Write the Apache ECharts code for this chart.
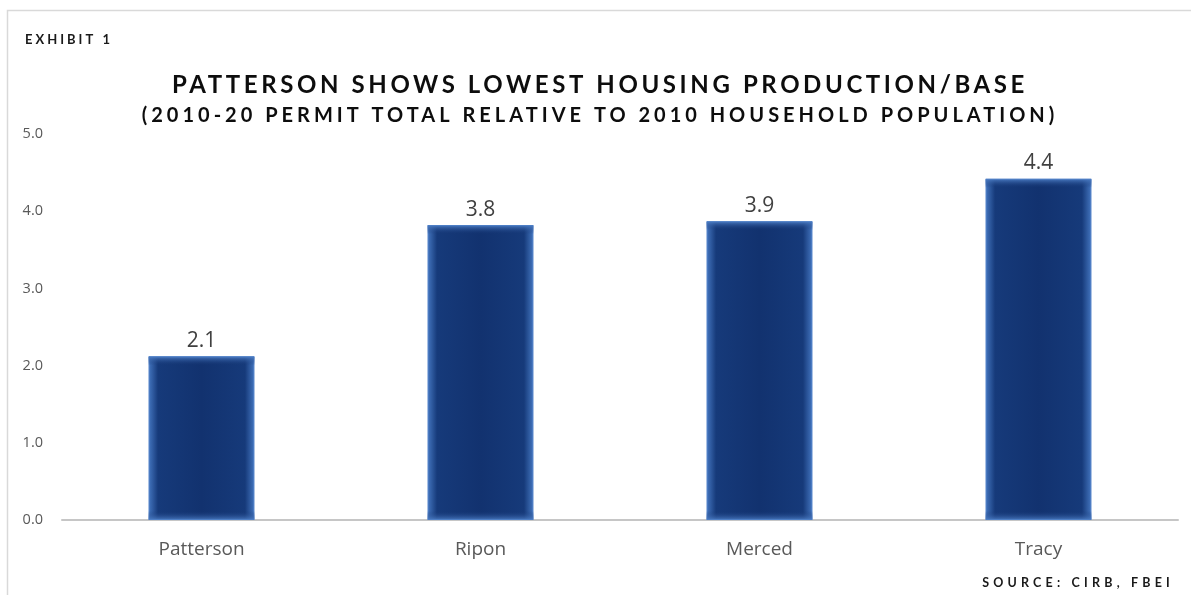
<!DOCTYPE html>
<html>
<head>
<meta charset="utf-8">
<title>Patterson Shows Lowest Housing Production/Base</title>
<script src="https://cdn.jsdelivr.net/npm/echarts@6/dist/echarts.min.js"></script>
<style>
  html, body { margin: 0; padding: 0; background: #ffffff; }
  #chart { width: 1191px; height: 595px; }
</style>
</head>
<body>
<div id="chart"></div>
<script>
// Data
const cities = ['Patterson', 'Ripon', 'Merced', 'Tracy'];
const permitRatio = [2.12, 3.82, 3.87, 4.42];
const yTicks = [0, 1, 2, 3, 4, 5];

const exhibitLabel = 'EXHIBIT 1';
const titleText = 'PATTERSON SHOWS LOWEST HOUSING PRODUCTION/BASE';
const subtitleText = '(2010-20 PERMIT TOTAL RELATIVE TO 2010 HOUSEHOLD POPULATION)';
const sourceText = 'SOURCE: CIRB, FBEI';

// Tracked (letter-spaced) headings: bold Lato text gets extra spacing by size.
const TRACKING = { '24': 3.6, '20': 4.0, '13': 3.0, '12.5': 4.2 };
function trackingFor(font) {
  if (!/Lato/.test(font) || !/bold|700/.test(font)) return 0;
  const m = font.match(/(\d+(?:\.\d+)?)px/);
  const size = m ? String(parseFloat(m[1])) : '12';
  return TRACKING[size] || 0;
}
const proto = CanvasRenderingContext2D.prototype;
const nativeFill = proto.fillText;
proto.fillText = function (t, x, y, w) {
  this.letterSpacing = trackingFor(this.font) + 'px';
  return w === undefined ? nativeFill.call(this, t, x, y) : nativeFill.call(this, t, x, y, w);
};
const measureCtx = document.createElement('canvas').getContext('2d');
echarts.setPlatformAPI({
  measureText(text, font) {
    measureCtx.font = font;
    measureCtx.letterSpacing = trackingFor(font) + 'px';
    return measureCtx.measureText(text);
  }
});

const chart = echarts.init(document.getElementById('chart'), null, { renderer: 'canvas' });

const GRID = { left: 62, right: 13, top: 134, bottom: 75 };
const plotH = 595 - GRID.top - GRID.bottom;
const yMax = yTicks[yTicks.length - 1];

// Soft glow along the top and bottom edges of each bar
const edgeGlow = permitRatio.map(v => {
  const h = v / yMax * plotH;
  const s = Math.min(0.3, 9 / h);
  return {
    value: v,
    itemStyle: {
      color: new echarts.graphic.LinearGradient(0, 0, 0, 1, [
        { offset: 0, color: 'rgba(78,128,200,0.95)' },
        { offset: s, color: 'rgba(22,55,118,0)' },
        { offset: 1 - s, color: 'rgba(22,55,118,0)' },
        { offset: 1, color: 'rgba(78,128,200,0.9)' }
      ])
    }
  };
});

const option = {
  backgroundColor: '#ffffff',
  animation: false,
  grid: GRID,
  xAxis: {
    type: 'category',
    data: cities,
    axisLine: { show: true, lineStyle: { color: '#c6c6c6', width: 2 } },
    axisTick: { show: false },
    axisLabel: {
      margin: 20,
      color: '#595959',
      fontFamily: 'Open Sans',
      fontSize: 19
    }
  },
  yAxis: {
    type: 'value',
    min: yTicks[0],
    max: yMax,
    interval: 1,
    axisLine: { show: false },
    axisTick: { show: false },
    splitLine: { show: false },
    axisLabel: {
      margin: 19,
      color: '#595959',
      fontFamily: 'Open Sans',
      fontSize: 14.5,
      formatter: v => v.toFixed(1)
    }
  },
  series: [
    {
      type: 'bar',
      data: permitRatio,
      barWidth: '38%',
      itemStyle: {
        color: new echarts.graphic.LinearGradient(0, 0, 1, 0, [
          { offset: 0, color: '#4476c0' },
          { offset: 0.09, color: '#163a7a' },
          { offset: 0.5, color: '#12326f' },
          { offset: 0.91, color: '#163a7a' },
          { offset: 1, color: '#4476c0' }
        ]),
        borderColor: '#5a88cc',
        borderWidth: 1
      },
      label: {
        show: true,
        position: 'top',
        distance: 5,
        color: '#404040',
        fontFamily: 'Open Sans',
        fontSize: 21,
        formatter: p => p.value.toFixed(1)
      },
      z: 2
    },
    {
      type: 'bar',
      data: edgeGlow,
      barWidth: '38%',
      barGap: '-100%',
      silent: true,
      z: 3
    }
  ],
  graphic: [
    {
      type: 'rect',
      shape: { x: 7.5, y: 10.5, width: 1300, height: 700 },
      style: { fill: 'none', stroke: '#d9d9d9', lineWidth: 1.5 },
      z: -1
    },
    {
      type: 'text', x: 25, y: 40,
      style: { text: exhibitLabel, font: 'bold 13px Lato', fill: '#1a1a1a', textAlign: 'left', textVerticalAlign: 'middle' }
    },
    {
      type: 'text', x: 600, y: 85,
      style: { text: titleText, font: 'bold 24px Lato', fill: '#0d0d0d', textAlign: 'center', textVerticalAlign: 'middle' }
    },
    {
      type: 'text', x: 600, y: 116,
      style: { text: subtitleText, font: 'bold 20px Lato', fill: '#0d0d0d', textAlign: 'center', textVerticalAlign: 'middle' }
    },
    {
      type: 'text', x: 1174, y: 583,
      style: { text: sourceText, font: 'bold 12.5px Lato', fill: '#1a1a1a', textAlign: 'right', textVerticalAlign: 'middle' }
    }
  ]
};

chart.setOption(option);
</script>
</body>
</html>
